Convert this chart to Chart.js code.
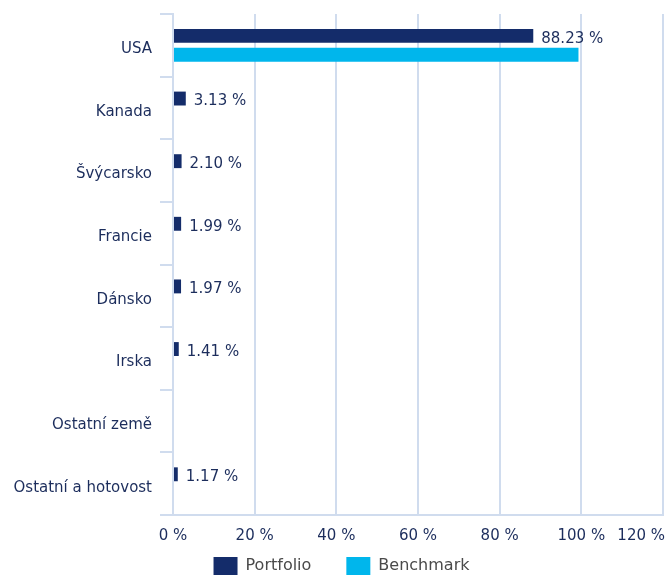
<!DOCTYPE html>
<html>
<head>
<meta charset="utf-8">
<script src="https://cdn.jsdelivr.net/npm/chart.js@4.4.1/dist/chart.umd.min.js"></script>
<style>
  html, body { margin: 0; padding: 0; background: #fff; }
  #wrap { width: 669px; height: 576px; }
</style>
</head>
<body>
<div id="wrap"><canvas id="chart" width="669" height="576"></canvas></div>
<script>
const categories = ['USA', 'Kanada', 'Švýcarsko', 'Francie', 'Dánsko', 'Irska', 'Ostatní země', 'Ostatní a hotovost'];
const portfolio = [88.23, 3.13, 2.10, 1.99, 1.97, 1.41, null, 1.17];
const benchmark = [99.3, null, null, null, null, null, null, null];
const xTicks = [0, 20, 40, 60, 80, 100, 120];

const NAVY = '#142c6a';
const CYAN = '#00b6ec';
const GRID = '#d0dcee';
const TEXT = '#1c2d5c';
const FONT = '"DejaVu Sans", Verdana, sans-serif';

// procentní popisky u tmavých sloupců
const valueLabels = {
  id: 'valueLabels',
  afterDatasetsDraw(chart) {
    const ctx = chart.ctx;
    const meta = chart.getDatasetMeta(0);
    ctx.save();
    ctx.font = '15px ' + FONT;
    ctx.fillStyle = TEXT;
    ctx.textAlign = 'left';
    ctx.textBaseline = 'middle';
    meta.data.forEach((bar, i) => {
      const v = portfolio[i];
      if (v === null) return;
      ctx.fillText(v.toFixed(2) + ' %', bar.x + 8, bar.y + 3);
    });
    ctx.restore();
  }
};

// popisky osy x (poslední zarovnaný doprava, aby se vešel)
const xLabels = {
  id: 'xLabels',
  afterDraw(chart) {
    const ctx = chart.ctx;
    const sx = chart.scales.x;
    ctx.save();
    ctx.font = '15px ' + FONT;
    ctx.fillStyle = TEXT;
    ctx.textBaseline = 'middle';
    xTicks.forEach((t, i) => {
      const px = sx.getPixelForValue(t);
      const last = i === xTicks.length - 1;
      ctx.textAlign = last ? 'right' : 'center';
      ctx.fillText(t + ' %', last ? px + 2 : px, 536);
    });
    ctx.restore();
  }
};

// legenda je v originále trochu posunutá doprava
const legendShift = {
  id: 'legendShift',
  afterLayout(chart) {
    chart.legend.left += 10;
    chart.legend.right += 10;
  }
};

new Chart(document.getElementById('chart'), {
  type: 'bar',
  data: {
    labels: categories,
    datasets: [
      {
        label: 'Portfolio',
        data: portfolio,
        backgroundColor: NAVY,
        categoryPercentage: 0.6,
        barPercentage: 0.74
      },
      {
        label: 'Benchmark',
        data: benchmark,
        backgroundColor: CYAN,
        categoryPercentage: 0.6,
        barPercentage: 0.74
      }
    ]
  },
  options: {
    indexAxis: 'y',
    responsive: false,
    animation: false,
    layout: {
      padding: { top: 14, left: 0, right: 6, bottom: -9 }
    },
    plugins: {
      tooltip: { enabled: false },
      legend: {
        position: 'bottom',
        labels: {
          boxWidth: 24,
          boxHeight: 18,
          padding: 35,
          color: '#4a4a4a',
          font: { family: FONT, size: 16 }
        }
      }
    },
    scales: {
      x: {
        min: 0,
        max: 120,
        afterBuildTicks: (scale) => {
          scale.ticks = xTicks.map(v => ({ value: v }));
        },
        ticks: { display: false },
        grid: { color: GRID, lineWidth: 2, drawTicks: false },
        border: { color: GRID, width: 2 },
        afterFit: (scale) => {
          scale.height = 7;
          scale.paddingLeft = 0;
          scale.paddingRight = 0;
        }
      },
      y: {
        ticks: {
          color: TEXT,
          font: { family: FONT, size: 15 },
          padding: 8,
          labelOffset: 4
        },
        grid: {
          drawOnChartArea: false,
          color: GRID,
          lineWidth: 2,
          tickLength: 13
        },
        border: { color: GRID, width: 2 },
        afterFit: (scale) => {
          scale.width = 173;
          scale.paddingTop = 0;
          scale.paddingBottom = 0;
        }
      }
    }
  },
  plugins: [valueLabels, xLabels, legendShift]
});
</script>
</body>
</html>
